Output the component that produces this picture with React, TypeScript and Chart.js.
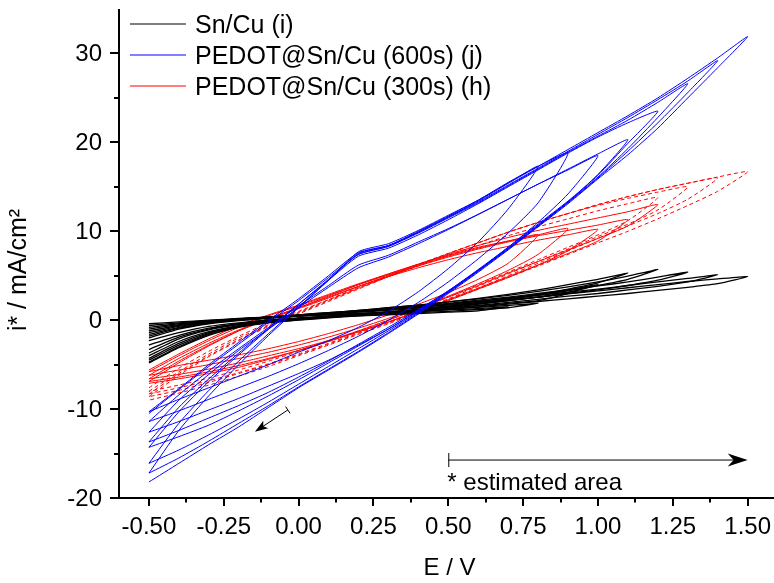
import React, { useEffect, useRef } from 'react';
import { Chart, registerables } from 'chart.js';
Chart.register(...registerables);

// Potential grid (V); each branch below is read at these potentials
const E_GRID = [-0.5, -0.4, -0.3, -0.2, -0.1, 0.0, 0.1, 0.2, 0.3, 0.4, 0.5, 0.6, 0.7, 0.8, 0.9, 1.0, 1.1, 1.2, 1.3, 1.4, 1.5];

// Tick values
const X_MAJOR = [-0.5, -0.25, 0, 0.25, 0.5, 0.75, 1.0, 1.25, 1.5];
const X_MINOR = [-0.375, -0.125, 0.125, 0.375, 0.625, 0.875, 1.125, 1.375];
const Y_MAJOR = [-20, -10, 0, 10, 20, 30];
const Y_MINOR = [-15, -5, 5, 15, 25];

const LEGEND_LABELS = ['Sn/Cu (i)', 'PEDOT@Sn/Cu (600s) (j)', 'PEDOT@Sn/Cu (300s) (h)'];

// Sn/Cu (i): anodic branch (from -0.5 V up) and cathodic branch (from vertex down)
const blackUp = [
  [-0.4, -0.2, 0.0, 0.2, 0.35, 0.5, 0.6, 0.75, 0.85, 1.0, 1.15, 1.3, 1.5],
  [-0.6, -0.3, -0.05, 0.15, 0.3, 0.45, 0.6, 0.75, 0.9, 1.05, 1.25, 1.45, 1.65, 1.9],
  [-0.8, -0.4, -0.1, 0.15, 0.35, 0.5, 0.7, 0.9, 1.1, 1.35, 1.6, 1.9, 2.2, 2.6, 3.0],
  [-1.0, -0.5, -0.15, 0.15, 0.35, 0.55, 0.75, 1.0, 1.25, 1.5, 1.8, 2.15, 2.5, 2.9, 3.4, 4.0],
  [-1.2, -0.6, -0.2, 0.1, 0.35, 0.6, 0.85, 1.1, 1.4, 1.7, 2.05, 2.45, 2.9, 3.4, 4.0, 4.6, 5.3],
  [-1.4, -0.7, -0.25, 0.1, 0.35, 0.6, 0.85, 1.1, 1.4, 1.7, 2.05, 2.4, 2.8, 3.25, 3.75, 4.3, 4.95, 5.7],
  [-1.6, -0.8, -0.3, 0.05, 0.3, 0.55, 0.8, 1.05, 1.3, 1.6, 1.9, 2.25, 2.6, 3.0, 3.4, 3.85, 4.3, 4.85, 5.4],
  [-1.8, -0.9, -0.35, 0.0, 0.25, 0.5, 0.75, 1.0, 1.25, 1.5, 1.8, 2.1, 2.45, 2.8, 3.15, 3.5, 3.9, 4.3, 4.7, 5.1],
  [-2.0, -1.0, -0.4, -0.05, 0.2, 0.45, 0.7, 0.95, 1.2, 1.45, 1.7, 2.0, 2.3, 2.6, 2.95, 3.3, 3.65, 4.0, 4.35, 4.65, 4.9],
];
const blackDown = [
  [1.5, 1.05, 0.9, 0.75, 0.6, 0.5, 0.35, 0.2, 0.0, -0.3, -0.7, -1.4, -2.3],
  [1.9, 1.4, 1.2, 1.0, 0.85, 0.7, 0.55, 0.4, 0.2, 0.0, -0.4, -0.9, -1.7, -2.8],
  [3.0, 2.2, 1.9, 1.6, 1.3, 1.05, 0.85, 0.65, 0.45, 0.25, 0.0, -0.4, -1.0, -1.9, -3.3],
  [4.0, 3.1, 2.6, 2.2, 1.8, 1.45, 1.15, 0.9, 0.7, 0.45, 0.2, -0.1, -0.5, -1.1, -2.1, -3.7],
  [5.3, 4.2, 3.5, 2.9, 2.4, 1.95, 1.55, 1.2, 0.95, 0.7, 0.45, 0.2, -0.1, -0.6, -1.3, -2.4, -4.0],
  [5.7, 4.6, 3.9, 3.3, 2.8, 2.35, 1.9, 1.5, 1.2, 0.9, 0.65, 0.4, 0.15, -0.15, -0.65, -1.4, -2.6, -4.3],
  [5.4, 4.5, 3.9, 3.4, 3.0, 2.6, 2.2, 1.8, 1.45, 1.15, 0.85, 0.6, 0.35, 0.1, -0.2, -0.7, -1.5, -2.8, -4.5],
  [5.1, 4.3, 3.8, 3.4, 3.0, 2.7, 2.35, 2.0, 1.65, 1.35, 1.05, 0.8, 0.55, 0.3, 0.05, -0.25, -0.75, -1.6, -3.0, -4.7],
  [4.9, 4.1, 3.7, 3.35, 3.0, 2.7, 2.4, 2.1, 1.8, 1.5, 1.2, 0.95, 0.7, 0.5, 0.25, 0.0, -0.3, -0.8, -1.7, -3.1, -4.8],
];

// PEDOT@Sn/Cu (600s) (j)
const blueUp = [
  [-10.5, -7.8, -5.2, -2.7, -0.2, 2.2, 4.8, 7.4, 8.3, 9.9, 11.6, 13.4, 15.4, 17.3],
  [-10.3, -7.7, -5.0, -2.5, 0.0, 2.4, 5.0, 7.6, 8.4, 10.0, 11.7, 13.5, 15.5, 17.3, 18.8],
  [-11.4, -8.4, -5.7, -3.2, -0.8, 1.6, 3.9, 6.2, 7.3, 8.8, 10.3, 11.9, 13.6, 15.3, 16.9, 18.5],
  [-12.6, -9.0, -6.1, -3.4, -1.0, 1.4, 3.7, 5.9, 7.1, 8.6, 10.2, 11.9, 13.6, 15.3, 17.0, 18.7, 20.3],
  [-13.7, -9.8, -6.6, -3.7, -0.9, 1.8, 4.5, 7.2, 8.1, 9.6, 11.3, 13.1, 15.0, 16.9, 18.8, 20.6, 22.2, 23.5],
  [-14.3, -10.3, -6.9, -3.9, -1.0, 1.8, 4.6, 7.4, 8.3, 9.8, 11.5, 13.2, 15.1, 17.0, 18.9, 20.7, 22.5, 24.5, 26.6],
  [-16.1, -11.6, -7.9, -4.6, -1.5, 1.5, 4.5, 7.5, 8.4, 9.9, 11.6, 13.3, 15.2, 17.1, 19.0, 20.9, 22.8, 24.8, 26.9, 29.2],
  [-17.2, -12.4, -8.5, -5.0, -1.7, 1.4, 4.5, 7.7, 8.6, 10.1, 11.8, 13.5, 15.4, 17.3, 19.2, 21.1, 23.0, 25.0, 27.2, 29.5, 31.9],
];
const blueDown = [
  [17.3, 12.5, 8.8, 5.8, 3.2, 1.0, -0.8, -2.3, -3.6, -5.0, -6.3, -7.6, -8.9, -10.3],
  [18.8, 13.2, 9.8, 6.9, 4.3, 2.0, 0.0, -1.8, -3.4, -4.9, -6.3, -7.6, -8.9, -10.2, -11.4],
  [18.5, 14.2, 11.0, 8.2, 5.6, 3.2, 1.0, -1.0, -2.8, -4.5, -6.0, -7.4, -8.8, -10.1, -11.4, -12.6],
  [20.3, 16.4, 13.3, 10.6, 8.0, 5.6, 3.3, 1.2, -0.8, -2.7, -4.6, -6.4, -8.1, -9.6, -11.0, -12.4, -13.7],
  [23.5, 19.9, 16.3, 13.4, 10.8, 8.2, 5.7, 3.3, 1.1, -1.0, -2.9, -4.8, -6.7, -8.5, -10.2, -11.8, -13.1, -14.3],
  [26.6, 22.8, 19.3, 16.1, 13.3, 10.7, 8.1, 5.6, 3.2, 0.9, -1.2, -3.2, -5.2, -7.2, -9.2, -11.1, -12.9, -14.6, -16.1],
  [29.2, 25.6, 22.2, 19.0, 16.0, 13.2, 10.6, 8.0, 5.5, 3.1, 0.8, -1.4, -3.5, -5.5, -7.5, -9.6, -11.6, -13.6, -15.5, -17.2],
  [31.9, 28.4, 25.0, 21.6, 18.6, 15.9, 13.1, 10.5, 7.9, 5.4, 3.0, 0.7, -1.5, -3.6, -5.6, -7.6, -9.8, -12.0, -14.0, -16.1, -18.2],
];

// PEDOT@Sn/Cu (300s) (h), solid cycles
const redUp = [
  [-5.6, -3.8, -2.1, -0.6, 0.6, 1.7, 2.9, 4.1, 5.2, 6.3, 7.3, 8.2, 8.9, 9.6],
  [-5.8, -4.0, -2.3, -0.8, 0.5, 1.6, 2.8, 4.0, 5.1, 6.2, 7.2, 8.1, 8.9, 9.6, 10.3],
  [-6.2, -4.3, -2.6, -1.1, 0.2, 1.4, 2.6, 3.8, 4.9, 5.9, 6.8, 7.6, 8.3, 9.0, 9.6, 10.2],
  [-6.6, -4.6, -2.8, -1.2, 0.1, 1.3, 2.5, 3.8, 5.0, 6.1, 7.1, 8.0, 8.8, 9.5, 10.1, 10.7, 11.3],
  [-6.9, -4.8, -2.9, -1.2, 0.2, 1.4, 2.7, 4.0, 5.2, 6.3, 7.4, 8.4, 9.3, 10.1, 10.8, 11.5, 12.2, 13.0],
];
const redDown = [
  [9.6, 6.4, 4.6, 3.1, 1.8, 0.6, -0.5, -1.5, -2.4, -3.2, -3.9, -4.5, -5.1, -5.8],
  [10.3, 7.4, 5.6, 4.1, 2.7, 1.4, 0.2, -0.9, -1.9, -2.8, -3.6, -4.3, -5.0, -5.6, -6.2],
  [10.2, 7.8, 6.2, 4.8, 3.5, 2.2, 1.0, -0.2, -1.3, -2.3, -3.2, -4.0, -4.8, -5.5, -6.1, -6.6],
  [11.3, 8.9, 7.5, 6.2, 4.9, 3.6, 2.3, 1.0, -0.2, -1.3, -2.4, -3.4, -4.3, -5.1, -5.8, -6.4, -6.9],
  [13.0, 10.6, 9.2, 7.9, 6.6, 5.3, 3.9, 2.6, 1.3, 0.0, -1.2, -2.3, -3.4, -4.4, -5.3, -6.0, -6.6, -7.1],
];

// PEDOT@Sn/Cu (300s) (h), dashed cycles
const redDashUp = [
  [-7.6, -5.4, -3.5, -1.8, -0.3, 1.0, 2.3, 3.6, 4.9, 6.1, 7.3, 8.4, 9.5, 10.5, 11.4, 12.3, 13.1, 13.8],
  [-8.0, -5.8, -3.8, -2.0, -0.5, 0.9, 2.3, 3.7, 5.0, 6.3, 7.5, 8.7, 9.9, 11.0, 12.0, 12.9, 13.7, 14.4, 15.0],
  [-8.3, -6.0, -4.0, -2.2, -0.6, 0.8, 2.2, 3.6, 4.9, 6.2, 7.5, 8.7, 9.9, 11.0, 12.0, 13.0, 13.9, 14.7, 15.4, 16.0],
  [-8.6, -6.2, -4.1, -2.3, -0.7, 0.7, 2.1, 3.5, 4.9, 6.2, 7.5, 8.7, 9.9, 11.0, 12.0, 13.0, 13.9, 14.7, 15.4, 16.1, 16.7],
];
const redDashDown = [
  [13.8, 11.2, 9.6, 8.2, 6.8, 5.4, 4.0, 2.6, 1.3, 0.0, -1.2, -2.4, -3.5, -4.6, -5.6, -6.5, -7.3, -8.0],
  [15.0, 12.4, 10.8, 9.4, 8.0, 6.6, 5.2, 3.8, 2.4, 1.1, -0.2, -1.4, -2.6, -3.8, -4.9, -5.9, -6.8, -7.6, -8.3],
  [16.0, 13.6, 12.0, 10.6, 9.2, 7.8, 6.4, 5.0, 3.6, 2.3, 1.0, -0.3, -1.5, -2.7, -3.9, -5.0, -6.0, -7.0, -7.9, -8.6],
  [16.7, 14.5, 12.9, 11.4, 10.0, 8.7, 7.4, 6.1, 4.8, 3.5, 2.2, 0.9, -0.4, -1.6, -2.8, -4.0, -5.2, -6.3, -7.3, -8.2, -9.0],
];

// Annotations (data coordinates)
const SWEEP_ARROW = { from: [-0.036, -10.1], to: [-0.146, -12.54] };
const AREA_ARROW = { from: [0.5, -15.73], to: [1.5, -15.73] };
const AREA_TEXT = { at: [0.5, -19.1], text: '* estimated area' };

const FONT = '"Liberation Sans", Arial, Helvetica, sans-serif';

function loopPoints(up: number[], down: number[]) {
  const pts: { x: number; y: number }[] = [];
  for (let k = 0; k < up.length; k++) pts.push({ x: E_GRID[k], y: up[k] });
  for (let k = 1; k < down.length; k++) pts.push({ x: E_GRID[down.length - 1 - k], y: down[k] });
  return pts;
}

function drawArrowHead(ctx: CanvasRenderingContext2D, tx: number, ty: number, ang: number, len: number, half: number, notch: number) {
  ctx.save();
  ctx.translate(tx, ty);
  ctx.rotate(ang);
  ctx.beginPath();
  ctx.moveTo(0, 0);
  ctx.lineTo(-len, -half);
  ctx.lineTo(-len + notch, 0);
  ctx.lineTo(-len, half);
  ctx.closePath();
  ctx.fill();
  ctx.restore();
}

const decorPlugin = {
  id: 'decor',
  afterDatasetsDraw(chart: any) {
    const { ctx, chartArea, scales } = chart;
    const xs = scales.x;
    const ys = scales.y;
    const px = (v: number) => xs.getPixelForValue(v);
    const py = (v: number) => ys.getPixelForValue(v);
    ctx.save();
    ctx.strokeStyle = '#000';
    ctx.fillStyle = '#000';
    ctx.lineCap = 'butt';

    // axes
    ctx.lineWidth = 2;
    const axX = chartArea.left;
    const axY = chartArea.bottom;
    ctx.beginPath();
    ctx.moveTo(axX, chartArea.top);
    ctx.lineTo(axX, axY + 1);
    ctx.moveTo(axX - 1, axY);
    ctx.lineTo(chartArea.right, axY);
    ctx.stroke();

    // ticks
    ctx.beginPath();
    X_MAJOR.forEach((v) => { const x = Math.round(px(v)); ctx.moveTo(x, axY); ctx.lineTo(x, axY + 8); });
    X_MINOR.forEach((v) => { const x = Math.round(px(v)); ctx.moveTo(x, axY); ctx.lineTo(x, axY + 4.5); });
    Y_MAJOR.forEach((v) => { const y = Math.round(py(v)); ctx.moveTo(axX, y); ctx.lineTo(axX - 9, y); });
    Y_MINOR.forEach((v) => { const y = Math.round(py(v)); ctx.moveTo(axX, y); ctx.lineTo(axX - 5, y); });
    ctx.stroke();

    // tick labels
    ctx.font = `24px ${FONT}`;
    ctx.textBaseline = 'alphabetic';
    ctx.textAlign = 'center';
    X_MAJOR.forEach((v) => ctx.fillText(v.toFixed(2), px(v), axY + 36));
    ctx.textAlign = 'right';
    Y_MAJOR.forEach((v) => ctx.fillText(String(v), axX - 17, py(v) + 8));

    // axis titles
    ctx.textAlign = 'center';
    ctx.fillText('E / V', (px(-0.6) + chartArea.right) / 2 + 3, axY + 77);
    ctx.save();
    ctx.translate(26, 270);
    ctx.rotate(-Math.PI / 2);
    ctx.font = `25px ${FONT}`;
    ctx.fillText('i* / mA/cm²', 0, 0);
    ctx.restore();

    // legend
    const colors = ['#000000', '#0000ff', '#ff0000'];
    const ly = [24, 55, 86];
    ctx.textAlign = 'left';
    ctx.font = `25px ${FONT}`;
    LEGEND_LABELS.forEach((lab, k) => {
      ctx.strokeStyle = colors[k];
      ctx.lineWidth = 1.2;
      ctx.beginPath();
      ctx.moveTo(130, ly[k]);
      ctx.lineTo(186, ly[k]);
      ctx.stroke();
      ctx.fillStyle = '#000';
      ctx.fillText(lab, 195, ly[k] + 9);
    });

    // sweep direction arrow
    ctx.font = `24px ${FONT}`;
    ctx.strokeStyle = '#000';
    ctx.fillStyle = '#000';
    ctx.lineWidth = 1;
    const sx = px(SWEEP_ARROW.from[0]), sy = py(SWEEP_ARROW.from[1]);
    const tx = px(SWEEP_ARROW.to[0]), ty = py(SWEEP_ARROW.to[1]);
    const ang = Math.atan2(ty - sy, tx - sx);
    ctx.beginPath();
    ctx.moveTo(sx, sy);
    ctx.lineTo(tx - Math.cos(ang) * 8, ty - Math.sin(ang) * 8);
    const nx = -Math.sin(ang) * 4, ny = Math.cos(ang) * 4;
    ctx.moveTo(sx + nx, sy + ny);
    ctx.lineTo(sx - nx, sy - ny);
    ctx.stroke();
    drawArrowHead(ctx, tx, ty, ang, 13, 4.5, 3);

    // estimated area arrow
    const ax0 = px(AREA_ARROW.from[0]), ay0 = py(AREA_ARROW.from[1]);
    const ax1 = px(AREA_ARROW.to[0]);
    ctx.beginPath();
    ctx.moveTo(ax0, ay0);
    ctx.lineTo(ax1 - 10, ay0);
    ctx.moveTo(ax0 + 0.5, ay0 - 7);
    ctx.lineTo(ax0 + 0.5, ay0 + 7);
    ctx.stroke();
    drawArrowHead(ctx, ax1, ay0, 0, 20, 6.5, 6);

    ctx.textAlign = 'left';
    ctx.fillText(AREA_TEXT.text, px(AREA_TEXT.at[0]) - 1, py(AREA_TEXT.at[1]));
    ctx.restore();
  },
};

export default function App() {
  const ref = useRef<HTMLCanvasElement | null>(null);
  useEffect(() => {
    if (!ref.current) return;
    const datasets: any[] = [];
    blueUp.forEach((u, k) => datasets.push({
      data: loopPoints(u, blueDown[k]), borderColor: '#0000ff', borderWidth: 1, order: 1,
    }));
    blackUp.forEach((u, k) => datasets.push({
      data: loopPoints(u, blackDown[k]), borderColor: '#000000', borderWidth: 1.3, order: 2,
    }));
    redUp.forEach((u, k) => datasets.push({
      data: loopPoints(u, redDown[k]), borderColor: '#ff0000', borderWidth: 1, order: 3,
    }));
    redDashUp.forEach((u, k) => datasets.push({
      data: loopPoints(u, redDashDown[k]), borderColor: '#ff0000', borderWidth: 1, borderDash: [4, 3], order: 4,
    }));
    datasets.forEach((d) => {
      d.showLine = true;
      d.pointRadius = 0;
      d.tension = 0.2;
      d.fill = false;
    });
    const chart = new Chart(ref.current, {
      type: 'scatter',
      data: { datasets },
      options: {
        animation: false,
        responsive: false,
        events: [],
        layout: { padding: { left: 119, right: 0, top: 9, bottom: 85 } },
        plugins: { legend: { display: false }, tooltip: { enabled: false } },
        scales: {
          x: { type: 'linear', min: -0.6, max: 1.588, display: false },
          y: { type: 'linear', min: -20, max: 35, display: false },
        },
      },
      plugins: [decorPlugin],
    });
    return () => chart.destroy();
  }, []);
  return (
    <div style={{ position: 'absolute', left: 0, top: 0, width: 774, height: 583, background: '#fff' }}>
      <canvas ref={ref} width={774} height={583} style={{ display: 'block' }} />
    </div>
  );
}
